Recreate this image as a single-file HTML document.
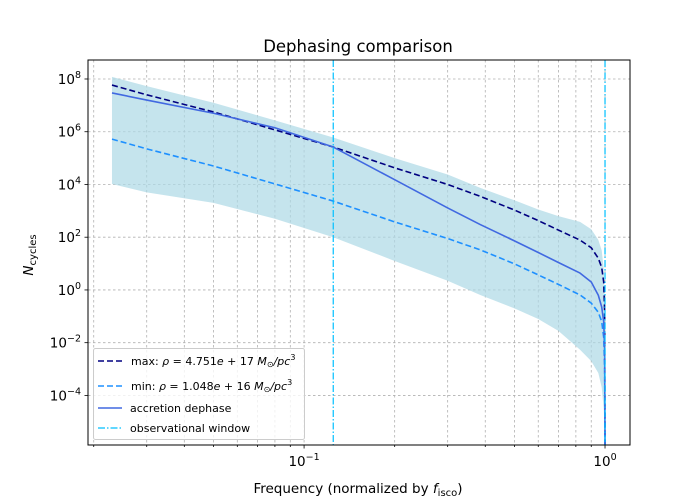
<!DOCTYPE html>
<html><head><meta charset="utf-8"><style>
body{margin:0;background:#fff}
svg{display:block;font-family:"DejaVu Sans","Liberation Sans",sans-serif}
</style></head><body>
<svg id="c" width="700" height="500" viewBox="0 0 700 500"></svg>
<script>
const freqs=[0.023,0.03,0.05,0.08,0.125,0.2,0.3,0.385,0.5,0.6,0.7,0.826,0.9,0.95,0.975,0.99,0.997,1.0];
const maxLog=[7.77,7.4,6.75,6.07,5.42,4.63,4.0,3.55,3.03,2.63,2.27,1.89,1.6,1.2,0.85,0.3,-0.8,-5.88];
const minLog=[5.72,5.35,4.7,4.02,3.37,2.58,1.95,1.52,0.99,0.57,0.21,-0.19,-0.5,-0.85,-1.2,-1.8,-2.9,-5.88];
const accLog=[7.47,7.2,6.7,6.15,5.42,4.18,3.11,2.48,1.86,1.42,1.04,0.64,0.3,-0.2,-0.65,-1.2,-2.3,-5.88];
const bandHiLog=[8.08,7.73,7.1,6.43,5.78,5.0,4.38,3.87,3.4,3.05,2.8,2.58,2.3,1.9,1.5,0.8,-0.5,-5.88];
const bandLoLog=[4.02,3.7,3.3,2.7,2.0,1.1,0.35,-0.19,-0.7,-1.1,-1.55,-2.27,-2.7,-3.15,-3.7,-4.5,-5.3,-5.88];
const windowLines=[0.125,1.0];
const yTickExps=[8,6,4,2,0,-2,-4];
const xTickExps=[-1,0];

const L=88,R=630,T=60,B=445;
const xLogMin=-1.718,xLogMax=0.083,yLogMin=-5.88,yLogMax=8.72;
const sx=f=>L+(Math.log10(f)-xLogMin)/(xLogMax-xLogMin)*(R-L);
const sy=l=>B-(l-yLogMin)/(yLogMax-yLogMin)*(B-T);
const svg=document.getElementById('c');
const NS='http://www.w3.org/2000/svg';
function mk(tag,attrs,parent){const e=document.createElementNS(NS,tag);for(const k in attrs)e.setAttribute(k,attrs[k]);(parent||svg).appendChild(e);return e;}

const clip=mk('clipPath',{id:'pc'});mk('rect',{x:L,y:T,width:R-L,height:B-T},clip);

const grid=mk('g',{});


for(let d=-2;d<=0;d++)for(let m=1;m<=9;m++){const f=m*Math.pow(10,d);const x=sx(f);if(x<L||x>R)continue;
 mk('line',{x1:x,x2:x,y1:T,y2:B,stroke:'#b0b0b0','stroke-width':0.8,'stroke-dasharray':'2.5,2.5'},grid);
 mk('line',{x1:x,x2:x,y1:B,y2:B+(m===1?3.5:2),stroke:'#000','stroke-width':0.8},svg);}
yTickExps.forEach(e=>{const y=sy(e);
 mk('line',{x1:L,x2:R,y1:y,y2:y,stroke:'#b0b0b0','stroke-width':0.8,'stroke-dasharray':'2.5,2.5'},grid);
 mk('line',{x1:L-3.5,x2:L,y1:y,y2:y,stroke:'#000','stroke-width':0.8});
 const t=mk('text',{x:L-7,y:y+5,'text-anchor':'end','font-size':13.5,fill:'#000'});
 
 
 t.innerHTML='10<tspan dy="-6" font-size="9.5">'+(e<0?'\u2212'+(-e):e)+'</tspan>';});
xTickExps.forEach(e=>{const x=sx(Math.pow(10,e));
 const t=mk('text',{x:x,y:B+21,'text-anchor':'middle','font-size':13.5,fill:'#000'});
 
 
 t.innerHTML='10<tspan dy="-6" font-size="9.5">'+(e<0?'\u2212'+(-e):e)+'</tspan>';});

const plot=mk('g',{'clip-path':'url(#pc)'});
let d='';freqs.forEach((f,i)=>{d+=(i?'L':'M')+sx(f)+','+sy(bandHiLog[i]);});
for(let i=freqs.length-1;i>=0;i--)d+='L'+sx(freqs[i])+','+sy(bandLoLog[i]);
const band=mk('path',{d:d+'Z',fill:'#add8e6','fill-opacity':0.7},plot);


function line(arr,color,dash,name){let p='';freqs.forEach((f,i)=>{p+=(i?'L':'M')+sx(f)+','+sy(arr[i]);});
 const e=mk('path',{d:p,fill:'none',stroke:color,'stroke-width':1.6,'stroke-dasharray':dash||'none','stroke-linejoin':'round'},plot);
 
 }
line(maxLog,'#000080','6,3','max-density-line');
line(minLog,'#1e90ff','6,3','min-density-line');
line(accLog,'#4169e1',null,'accretion-dephase-line');
windowLines.forEach(f=>{const x=sx(f);
 const e=mk('line',{x1:x,x2:x,y1:T,y2:B,stroke:'#00bfff','stroke-width':1.2,'stroke-dasharray':'7,2,1.5,2'},plot);
 
 });

const frame=mk('rect',{x:L,y:T,width:R-L,height:B-T,fill:'none',stroke:'#000','stroke-width':1});


</script>
<svg width="700" height="500" style="position:absolute;left:0;top:0">
 <text x="358" y="52" text-anchor="middle" font-size="16.5" font-family="DejaVu Sans, sans-serif">Dephasing comparison</text>
 <text x="358" y="493" text-anchor="middle" font-size="13.5" font-family="DejaVu Sans, sans-serif">Frequency (normalized by <tspan font-style="italic">f</tspan><tspan dy="3" font-size="10">isco</tspan><tspan dy="-3">)</tspan></text>
 <text transform="translate(33,255) rotate(-90)" text-anchor="middle" font-size="13.5" font-family="DejaVu Sans, sans-serif"><tspan font-style="italic">N</tspan><tspan dy="3" font-size="10">cycles</tspan></text>
 <g font-family="DejaVu Sans, sans-serif" font-size="11">
  <rect x="93.5" y="348.5" width="211" height="91" rx="2" fill="#fff" fill-opacity="0.8" stroke="#ccc"/>
  <line x1="98" x2="122" y1="361" y2="361" stroke="#000080" stroke-width="1.6" stroke-dasharray="6,3"/>
  <text x="131" y="365">max: <tspan font-style="italic">ρ</tspan> = 4.751<tspan font-style="italic">e</tspan> + 17 <tspan font-style="italic">M</tspan><tspan font-size="8" dy="2">⊙</tspan><tspan dy="-2" font-style="italic">/pc</tspan><tspan font-size="8" dy="-5">3</tspan></text>
  <line x1="98" x2="122" y1="386" y2="386" stroke="#1e90ff" stroke-width="1.6" stroke-dasharray="6,3"/>
  <text x="131" y="390">min: <tspan font-style="italic">ρ</tspan> = 1.048<tspan font-style="italic">e</tspan> + 16 <tspan font-style="italic">M</tspan><tspan font-size="8" dy="2">⊙</tspan><tspan dy="-2" font-style="italic">/pc</tspan><tspan font-size="8" dy="-5">3</tspan></text>
  <line x1="98" x2="122" y1="408" y2="408" stroke="#4169e1" stroke-width="1.6"/>
  <text x="130" y="412">accretion dephase</text>
  <line x1="98" x2="122" y1="428" y2="428" stroke="#00bfff" stroke-width="1.2" stroke-dasharray="7,2,1.5,2"/>
  <text x="130" y="432">observational window</text>
 </g>
</svg>
</body></html>
